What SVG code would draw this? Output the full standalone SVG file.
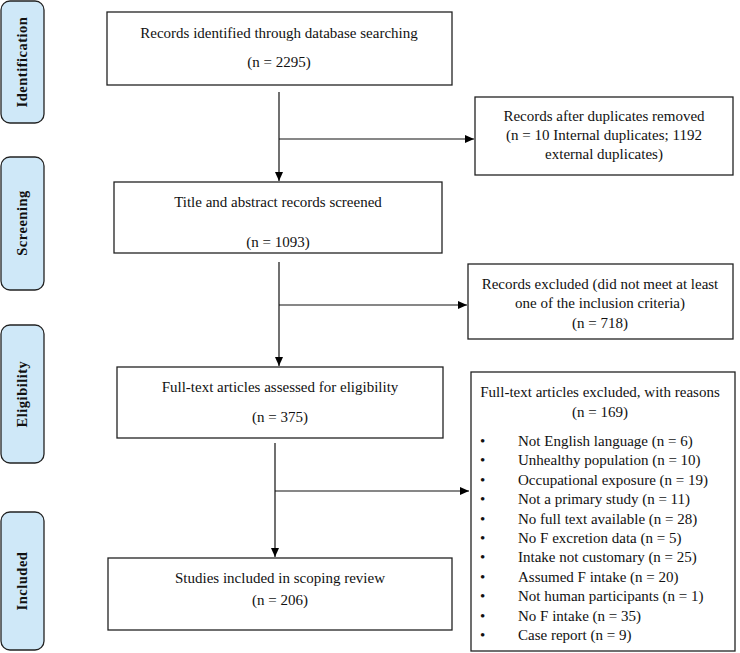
<svg xmlns="http://www.w3.org/2000/svg" width="740" height="653" viewBox="0 0 740 653">
<defs>
<marker id="ah" markerWidth="10" markerHeight="10" refX="9" refY="5" orient="auto" markerUnits="userSpaceOnUse">
<path d="M0,1 L9,5 L0,9 Z" fill="#000"/>
</marker>
<style>
.box{fill:#fff;stroke:#222;stroke-width:1.3}
.pill{fill:#cfe8f8;stroke:#222;stroke-width:1.3}
.t{font-family:"Liberation Serif","Times New Roman",serif;font-size:15px;fill:#111}
.c{text-anchor:middle}
.side{font-family:"Liberation Serif","Times New Roman",serif;font-size:14.5px;font-weight:bold;fill:#111;text-anchor:middle;letter-spacing:0.5px}
.ln{stroke:#111;stroke-width:1.2;fill:none}
</style>
</defs>
<rect width="740" height="653" fill="#fff"/>

<g id="phase-identification"><rect class="pill" x="1" y="1" width="43" height="122" rx="9"/><text class="side" transform="translate(27,62) rotate(-90)">Identification</text></g>
<g id="phase-screening"><rect class="pill" x="1" y="157" width="43" height="133" rx="9"/><text class="side" transform="translate(27,223) rotate(-90)">Screening</text></g>
<g id="phase-eligibility"><rect class="pill" x="1" y="325" width="43" height="138" rx="9"/><text class="side" transform="translate(27,394) rotate(-90)">Eligibility</text></g>
<g id="phase-included"><rect class="pill" x="1" y="512" width="43" height="138" rx="9"/><text class="side" transform="translate(27,581) rotate(-90)">Included</text></g>

<g id="connectors">
<line class="ln" x1="279" y1="92" x2="279" y2="181" marker-end="url(#ah)"/>
<line class="ln" x1="279" y1="139" x2="474" y2="139" marker-end="url(#ah)"/>
<line class="ln" x1="279" y1="262" x2="279" y2="366" marker-end="url(#ah)"/>
<line class="ln" x1="279" y1="305" x2="467" y2="305" marker-end="url(#ah)"/>
<line class="ln" x1="275" y1="443" x2="275" y2="557" marker-end="url(#ah)"/>
<line class="ln" x1="275" y1="491" x2="469" y2="491" marker-end="url(#ah)"/>
</g>

<g id="n-identified"><rect class="box" x="107" y="12" width="345" height="73"/>
<text class="t c" x="279" y="38">Records identified  through database searching</text>
<text class="t c" x="279" y="67">(n = 2295)</text></g>

<g id="n-duplicates"><rect class="box" x="475" y="97" width="258" height="78"/>
<text class="t c" x="604" y="121">Records after duplicates removed</text>
<text class="t c" x="604" y="140">(n = 10 Internal duplicates;  1192</text>
<text class="t c" x="604" y="159">external duplicates)</text></g>

<g id="n-screened"><rect class="box" x="114" y="182" width="328" height="71"/>
<text class="t c" x="278" y="207">Title  and abstract records screened</text>
<text class="t c" x="278" y="247">(n = 1093)</text></g>

<g id="n-excluded"><rect class="box" x="468" y="264" width="265" height="75"/>
<text class="t c" x="600" y="289">Records excluded (did  not  meet at least</text>
<text class="t c" x="600" y="308">one  of the inclusion  criteria)</text>
<text class="t c" x="600" y="328">(n = 718)</text></g>

<g id="n-assessed"><rect class="box" x="117" y="367" width="326" height="71"/>
<text class="t c" x="280" y="392">Full-text  articles assessed for eligibility</text>
<text class="t c" x="280" y="422">(n = 375)</text></g>

<g id="n-ft-excluded"><rect class="box" x="471" y="372" width="264" height="279"/>
<text class="t c" x="600" y="397">Full-text  articles excluded,  with reasons</text>
<text class="t c" x="600" y="417">(n = 169)</text>
<g class="t">
<text x="480" y="446">•</text><text x="518" y="446">Not English  language (n = 6)</text>
<text x="480" y="465">•</text><text x="518" y="465">Unhealthy population  (n = 10)</text>
<text x="480" y="485">•</text><text x="518" y="485">Occupational exposure (n = 19)</text>
<text x="480" y="504">•</text><text x="518" y="504">Not a primary study (n = 11)</text>
<text x="480" y="524">•</text><text x="518" y="524">No full text available (n = 28)</text>
<text x="480" y="543">•</text><text x="518" y="543">No F excretion data (n = 5)</text>
<text x="480" y="562">•</text><text x="518" y="562">Intake not customary (n = 25)</text>
<text x="480" y="582">•</text><text x="518" y="582">Assumed F intake (n = 20)</text>
<text x="480" y="601">•</text><text x="518" y="601">Not human participants  (n = 1)</text>
<text x="480" y="621">•</text><text x="518" y="621">No F intake  (n = 35)</text>
<text x="480" y="640">•</text><text x="518" y="640">Case report (n = 9)</text>
</g></g>

<g id="n-included"><rect class="box" x="108" y="558" width="344" height="72"/>
<text class="t c" x="280" y="583">Studies included  in  scoping review</text>
<text class="t c" x="280" y="605">(n = 206)</text></g>
</svg>
